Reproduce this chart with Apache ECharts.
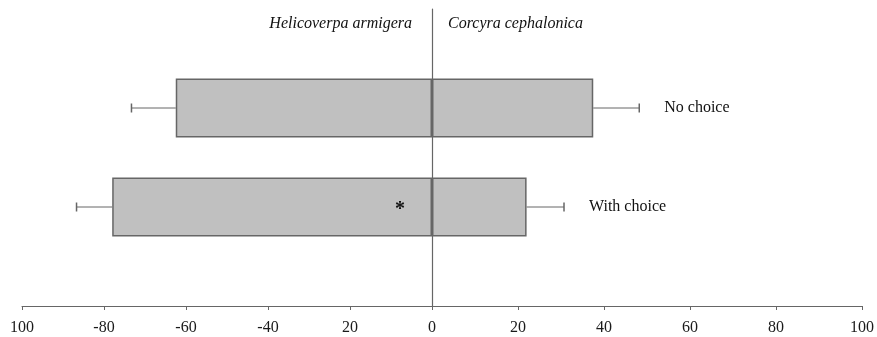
<!DOCTYPE html>
<html>
<head>
<meta charset="utf-8">
<script src="https://cdn.jsdelivr.net/npm/echarts@6/dist/echarts.min.js"></script>
<style>html,body{margin:0;padding:0;background:#fff}#c{width:877px;height:337px}</style>
</head>
<body>
<div id="c"></div>
<script>
// ---- data ----
var categories = ["No choice", "With choice"];
var helicoverpa = [-62.5, -78];      // left side (%)
var corcyra = [37.5, 22];            // right side (%)
var errHelicoverpa = [10.8, 8.7];
var errCorcyra = [10.7, 8.7];
var significance = ["", "*"];
var tickLabels = ["100", "-80", "-60", "-40", "20", "0", "20", "40", "60", "80", "100"];
var leftTitle = "Helicoverpa armigera";
var rightTitle = "Corcyra cephalonica";

var FONT = '"Liberation Serif", "Times New Roman", serif';
var LINE = '#666666';

// category slots: padded with empty ends so bars sit on interior ticks
var slots = [""].concat(categories).concat([""]);
function pad(arr) { return [null].concat(arr).concat([null]); }

var chart = echarts.init(document.getElementById('c'), null, {renderer: 'canvas'});

function errItem(side) {
  return function (params, api) {
    var v = api.value(0), idx = api.value(1), e = api.value(2);
    var end = v + (v < 0 ? -e : e);
    var p0 = api.coord([v, idx]);
    var p1 = api.coord([end, idx]);
    var children = [
      {type: 'line', shape: {x1: p0[0], y1: p0[1], x2: p1[0], y2: p1[1]}, style: {stroke: LINE, lineWidth: 1}},
      {type: 'line', shape: {x1: p1[0], y1: p1[1] - 4.5, x2: p1[0], y2: p1[1] + 4.5}, style: {stroke: LINE, lineWidth: 1.5}}
    ];
    if (side === 'right') {
      children.push({type: 'text', style: {x: p1[0] + 25, y: p1[1], text: slots[idx], font: '16px ' + FONT, fill: '#111', verticalAlign: 'middle', align: 'left'}});
    } else {
      var s = significance[idx - 1];
      if (s) {
        var z = api.coord([0, idx]);
        children.push({type: 'text', style: {x: z[0] - 32, y: z[1] + 3, text: s, font: 'bold 20px ' + FONT, fill: '#111', verticalAlign: 'middle', align: 'center'}});
      }
    }
    return {type: 'group', children: children};
  };
}

var axisLabelCommon = {color: '#1a1a1a', fontFamily: FONT, fontSize: 16, margin: 14};

chart.setOption({
  animation: false,
  title: [
    {text: leftTitle, right: 877 - 412, top: 15, padding: 0,
     textStyle: {fontFamily: FONT, fontStyle: 'italic', fontWeight: 'normal', fontSize: 16, color: '#111', lineHeight: 18}},
    {text: rightTitle, left: 448, top: 15, padding: 0,
     textStyle: {fontFamily: FONT, fontStyle: 'italic', fontWeight: 'normal', fontSize: 16, color: '#111', lineHeight: 18}}
  ],
  grid: [
    {left: 22, top: 9, width: 410, height: 297, containLabel: false},
    {left: 432, top: 9, width: 432, height: 297, containLabel: false}
  ],
  xAxis: [
    {type: 'value', gridIndex: 0, min: -100, max: 0, interval: 20, splitLine: {show: false},
     axisLine: {show: true, lineStyle: {color: LINE, width: 1}},
     axisTick: {show: true, inside: false, length: 4, lineStyle: {color: LINE}},
     axisLabel: Object.assign({}, axisLabelCommon, {formatter: function (v, i) { return tickLabels[Math.round((v + 100) / 20)]; }})},
    {type: 'value', gridIndex: 1, min: 0, max: 100, interval: 20, splitLine: {show: false},
     axisLine: {show: true, lineStyle: {color: LINE, width: 1}},
     axisTick: {show: true, inside: false, length: 4, lineStyle: {color: LINE}},
     axisLabel: Object.assign({}, axisLabelCommon, {showMinLabel: false, formatter: function (v, i) { return tickLabels[5 + Math.round(v / 20)]; }})}
  ],
  yAxis: [
    {type: 'category', gridIndex: 0, data: slots, inverse: true, boundaryGap: false,
     axisLine: {show: false}, axisTick: {show: false}, axisLabel: {show: false}, splitLine: {show: false}},
    {type: 'category', gridIndex: 1, data: slots, inverse: true, boundaryGap: false,
     axisLine: {show: true, onZero: false, lineStyle: {color: LINE, width: 1.2}},
     axisTick: {show: false}, axisLabel: {show: false}, splitLine: {show: false}}
  ],
  series: [
    {type: 'bar', xAxisIndex: 0, yAxisIndex: 0, data: pad(helicoverpa), barWidth: 59,
     itemStyle: {color: '#c0c0c0', borderColor: LINE, borderWidth: 1.5}, z: 2},
    {type: 'bar', xAxisIndex: 1, yAxisIndex: 1, data: pad(corcyra), barWidth: 59,
     itemStyle: {color: '#c0c0c0', borderColor: LINE, borderWidth: 1.5}, z: 2},
    {type: 'custom', xAxisIndex: 0, yAxisIndex: 0, renderItem: errItem('left'),
     encode: {x: 0, y: 1},
     data: helicoverpa.map(function (v, i) { return [v, i + 1, errHelicoverpa[i]]; }), z: 3},
    {type: 'custom', xAxisIndex: 1, yAxisIndex: 1, renderItem: errItem('right'),
     encode: {x: 0, y: 1},
     data: corcyra.map(function (v, i) { return [v, i + 1, errCorcyra[i]]; }), z: 3}
  ]
});
</script>
</body>
</html>
